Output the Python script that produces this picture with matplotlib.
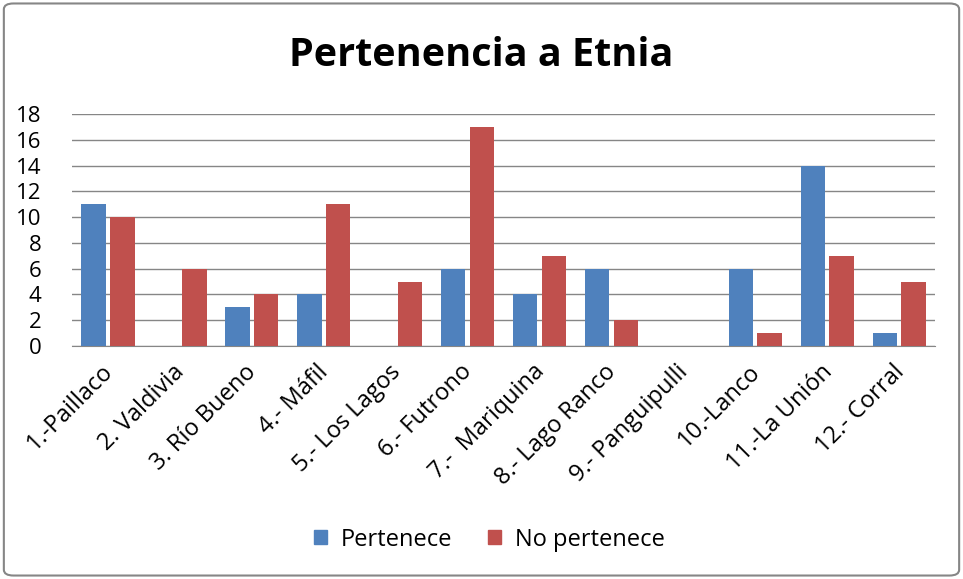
import matplotlib
matplotlib.use("Agg")
import matplotlib.pyplot as plt
import numpy as np
from matplotlib.patches import FancyBboxPatch, Patch

categories = ["1.-Paillaco", "2. Valdivia", "3. Río Bueno", "4.- Máfil", "5.- Los Lagos",
              "6.- Futrono", "7.-  Mariquina", "8.- Lago Ranco", "9.- Panguipulli",
              "10.-Lanco", "11.-La Unión", "12.- Corral"]
pertenece = [11, 0, 3, 4, 0, 6, 4, 6, 0, 6, 14, 1]
no_pertenece = [10, 6, 4, 11, 5, 17, 7, 2, 0, 1, 7, 5]
yticks = list(range(0, 19, 2))

plt.rcParams['font.family'] = ['Open Sans', 'DejaVu Sans']

fig = plt.figure(figsize=(9.63, 5.79), dpi=100)
ax = fig.add_axes([0.0748, 0.4024, 0.8962, 0.4007])

x = np.arange(len(categories))
w = 0.34
ax.bar(x - 0.2, pertenece, w, color='#4F81BD', label='Pertenece', zorder=3)
ax.bar(x + 0.2, no_pertenece, w, color='#C0504D', label='No pertenece', zorder=3)

ax.set_xlim(-0.5, len(categories) - 0.5)
ax.set_ylim(0, 18)
ax.set_yticks(yticks)
ax.yaxis.grid(True, color='#868686', linewidth=1, zorder=0)
ax.set_axisbelow(True)
for s in ['top', 'right', 'left']:
    ax.spines[s].set_visible(False)
ax.spines['bottom'].set_color('#868686')
ax.tick_params(axis='y', length=0, labelsize=16, pad=22)
ax.tick_params(axis='x', length=0, labelsize=17, pad=10)
ax.set_xticks(x - 0.1)
ax.set_xticklabels(categories, rotation=45, ha='right', rotation_mode='anchor')

fig.text(0.5, 0.905, "Pertenencia a Etnia", ha='center', va='center',
         fontsize=28.5, fontweight='bold')

handles = [Patch(color='#4F81BD'), Patch(color='#C0504D')]
fig.legend(handles, ['Pertenece', 'No pertenece'], loc='center',
           bbox_to_anchor=(0.508, 0.068), ncol=2, frameon=False, fontsize=17,
           handlelength=0.55, handleheight=0.55, columnspacing=1.5, handletextpad=0.6)

border = FancyBboxPatch((0.004, 0.006), 0.992, 0.988, boxstyle="round,pad=0,rounding_size=0.01",
                        transform=fig.transFigure, fill=False, edgecolor='#868686', linewidth=1.5)
fig.patches.append(border)

fig.savefig("out.png", dpi=100)
